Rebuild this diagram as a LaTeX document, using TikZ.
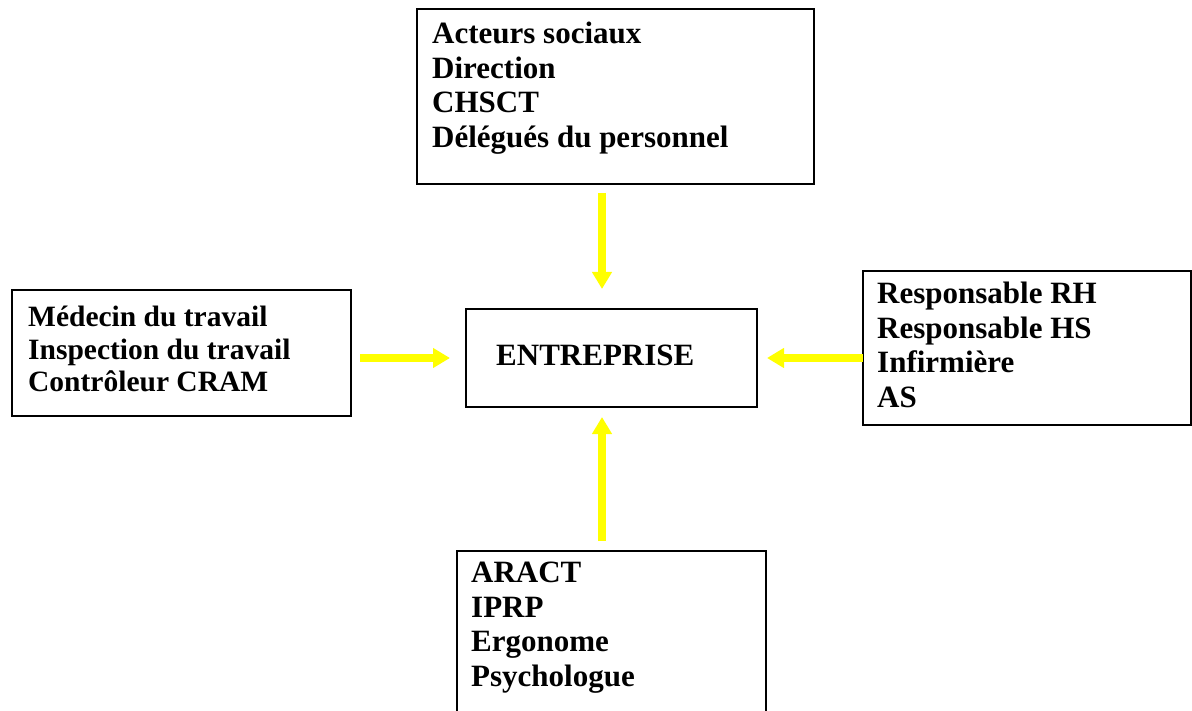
\documentclass[tikz,border=0pt]{standalone}
\usepackage{fontspec}
\setmainfont{Liberation Serif}
\usetikzlibrary{arrows.meta}
\definecolor{arrowyellow}{RGB}{255,255,0}
\begin{document}
\begin{tikzpicture}[x=1pt,y=-1pt,
  box/.style={draw=black, line width=1.4pt, inner sep=0pt, outer sep=0pt, anchor=north west},
  lbl/.style={font=\bfseries\fontsize{31}{34.5}\selectfont, align=left, inner sep=0pt, anchor=north west},
  lblsmall/.style={lbl, font=\bfseries\fontsize{29.5}{32.5}\selectfont},
  arr/.style={draw=arrowyellow, line width=8pt, -{Triangle[width=19pt,length=17pt]}}]
\useasboundingbox (0,0) rectangle (1192,711);
\clip (0,0) rectangle (1192,711);
\fill[white] (0,0) rectangle (1192,711);
% boxes
\node[box, minimum width=397pt, minimum height=175pt] (topbox) at (417,9) {};
\node[box, minimum width=339pt, minimum height=126pt] (leftbox) at (12,290) {};
\node[box, minimum width=328pt, minimum height=154pt] (rightbox) at (863,271) {};
\node[box, minimum width=309pt, minimum height=180pt] (botbox) at (457,551) {};
\node[box, minimum width=291pt, minimum height=98pt] (ent) at (466,309) {};
% texts
\node[lbl] (toptext) at (432,22) {Acteurs sociaux\\Direction\\CHSCT\\Délégués du personnel};
\node[lblsmall] (lefttext) at (28,306) {Médecin du travail\\Inspection du travail\\Contrôleur CRAM};
\node[lbl] (righttext) at (877,282) {Responsable RH\\Responsable HS\\Infirmière\\AS};
\node[lbl] (bottext) at (471,562) {ARACT\\IPRP\\Ergonome\\Psychologue};
\node[lbl, anchor=base west] (enttext) at (496,366) {ENTREPRISE};
% arrows
\draw[arr, shorten <=9pt, shorten >=20pt] ([xshift=-9.5pt]ent.north |- topbox.south) -- ([xshift=-9.5pt]ent.north);
\draw[arr, shorten <=10pt, shorten >=10pt] ([xshift=-9.5pt]ent.south |- botbox.north) -- ([xshift=-9.5pt]ent.south);
\draw[arr, shorten <=9pt, shorten >=16pt] (leftbox.east |- ent.west) -- (ent.west);
\draw[arr, shorten >=10pt] (rightbox.west |- ent.east) -- (ent.east);
\end{tikzpicture}
\end{document}
